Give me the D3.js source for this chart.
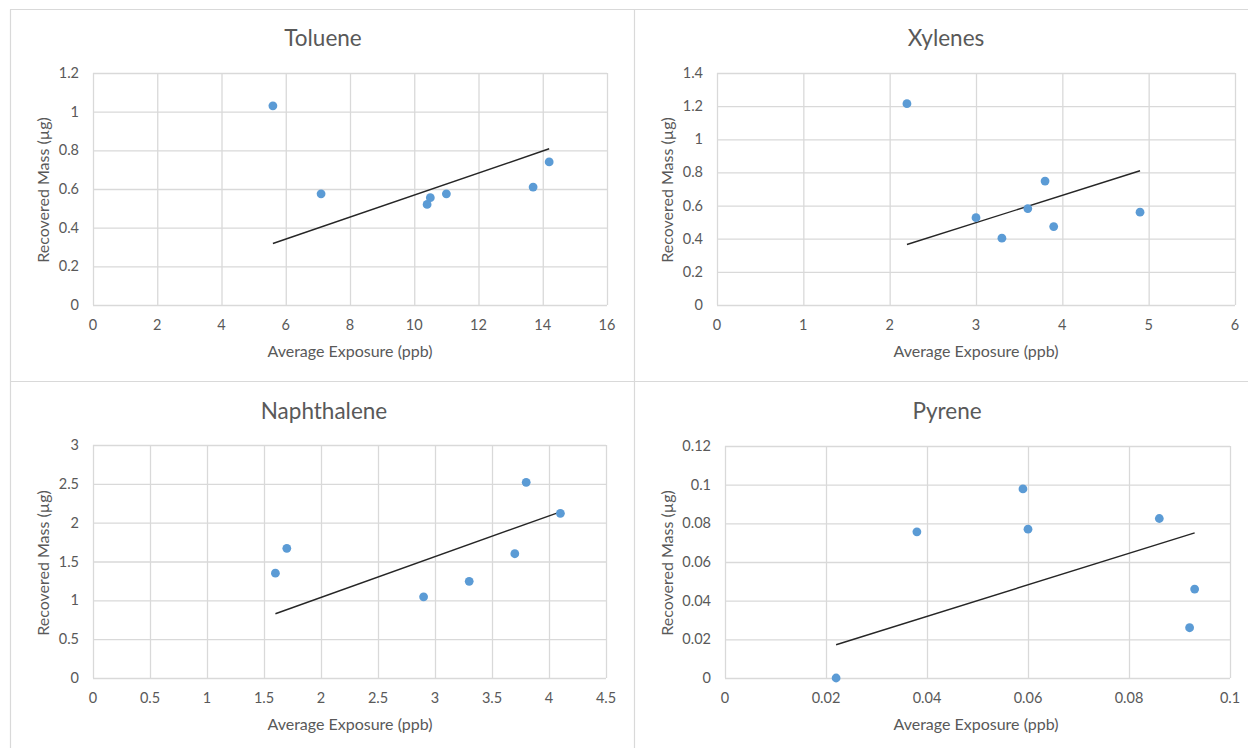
<!DOCTYPE html>
<html>
<head>
<meta charset="utf-8">
<script src="https://cdn.jsdelivr.net/npm/d3@7"></script>
<style>
  body { margin: 0; background: #ffffff; }
</style>
</head>
<body>
<div id="chart"></div>
<script>
// Chart titles and axis titles
let titles = ["Toluene", "Xylenes", "Naphthalene", "Pyrene"];
let xTitle = "Average Exposure (ppb)";
let yTitle = "Recovered Mass (µg)";

// Toluene data
let tolueneX = [5.6, 7.1, 10.4, 10.5, 11.0, 13.7, 14.2];
let tolueneY = [1.03, 0.575, 0.52, 0.555, 0.575, 0.61, 0.74];
let tolueneTrendX = [5.6, 14.2];
let tolueneTrendY = [0.318, 0.808];
let tolueneXTicks = [0, 2, 4, 6, 8, 10, 12, 14, 16];
let tolueneYTicks = [0, 0.2, 0.4, 0.6, 0.8, 1, 1.2];

// Xylenes data
let xylenesX = [2.2, 3.0, 3.3, 3.6, 3.8, 3.9, 4.9];
let xylenesY = [1.215, 0.527, 0.403, 0.582, 0.748, 0.473, 0.56];
let xylenesTrendX = [2.2, 4.9];
let xylenesTrendY = [0.365, 0.81];
let xylenesXTicks = [0, 1, 2, 3, 4, 5, 6];
let xylenesYTicks = [0, 0.2, 0.4, 0.6, 0.8, 1, 1.2, 1.4];

// Naphthalene data
let naphthaleneX = [1.6, 1.7, 2.9, 3.3, 3.7, 3.8, 4.1];
let naphthaleneY = [1.35, 1.67, 1.045, 1.245, 1.6, 2.52, 2.12];
let naphthaleneTrendX = [1.6, 4.1];
let naphthaleneTrendY = [0.827, 2.14];
let naphthaleneXTicks = [0, 0.5, 1, 1.5, 2, 2.5, 3, 3.5, 4, 4.5];
let naphthaleneYTicks = [0, 0.5, 1, 1.5, 2, 2.5, 3];

// Pyrene data
let pyreneX = [0.022, 0.038, 0.059, 0.060, 0.086, 0.092, 0.093];
let pyreneY = [0, 0.0756, 0.0978, 0.077, 0.0825, 0.026, 0.046];
let pyreneTrendX = [0.022, 0.093];
let pyreneTrendY = [0.0172, 0.0751];
let pyreneXTicks = [0, 0.02, 0.04, 0.06, 0.08, 0.1];
let pyreneYTicks = [0, 0.02, 0.04, 0.06, 0.08, 0.1, 0.12];

let xs = [tolueneX, xylenesX, naphthaleneX, pyreneX];
let ys = [tolueneY, xylenesY, naphthaleneY, pyreneY];
let trendXs = [tolueneTrendX, xylenesTrendX, naphthaleneTrendX, pyreneTrendX];
let trendYs = [tolueneTrendY, xylenesTrendY, naphthaleneTrendY, pyreneTrendY];
let xTicks = [tolueneXTicks, xylenesXTicks, naphthaleneXTicks, pyreneXTicks];
let yTicks = [tolueneYTicks, xylenesYTicks, naphthaleneYTicks, pyreneYTicks];

// Where each panel sits on the page
let boxes = [
    {x0: 93, x1: 607, y0: 73, y1: 305, tx: 323, ty: 38, xl: 350, yl: 44, yc: 190, xb: 352},
    {x0: 717, x1: 1235, y0: 73, y1: 305, tx: 946, ty: 38, xl: 976, yl: 668, yc: 190, xb: 352},
    {x0: 93, x1: 606, y0: 445, y1: 678, tx: 324, ty: 411, xl: 350, yl: 44, yc: 563, xb: 725},
    {x0: 725, x1: 1230, y0: 446, y1: 678, tx: 947, ty: 411, xl: 976, yl: 668, yc: 563, xb: 725}
];

let font = "Lato, 'Liberation Sans', sans-serif";
let textCol = "#595959";
let gridCol = "#d9d9d9";
let dotCol = "#5b9bd5";

svg = d3.select('#chart')
    .append('svg')
    .attr("width", 1248)
    .attr("height", 748);

svg.append("rect")
    .attr("width", 1248)
    .attr("height", 748)
    .style("fill", "#ffffff");

// Panel borders
let borders = [
    [10, 9.5, 1248, 9.5],
    [10.5, 9.5, 10.5, 748],
    [634.5, 9.5, 634.5, 748],
    [10, 381.5, 1248, 381.5]
];
borders.forEach(b => {
    svg.append("line")
        .attr("x1", b[0]).attr("y1", b[1])
        .attr("x2", b[2]).attr("y2", b[3])
        .style("stroke", gridCol)
        .style("stroke-width", 1.2);
});

for (let i = 0; i < 4; i++) {
    let b = boxes[i];
    let xt = xTicks[i], yt = yTicks[i];

    let x = d3.scaleLinear()
        .domain([0, xt[xt.length - 1]])
        .range([b.x0, b.x1]);
    let y = d3.scaleLinear()
        .domain([0, yt[yt.length - 1]])
        .range([b.y1, b.y0]);

    let g = svg.append("g");

    // Gridlines
    g.append("g")
        .attr("transform", `translate(0 ${b.y1})`)
        .call(d3.axisBottom(x).tickValues(xt).tickSize(-(b.y1 - b.y0)).tickFormat(""))
        .call(a => a.select(".domain").remove())
        .selectAll("line")
        .style("stroke", gridCol)
        .style("stroke-width", 1.3);
    g.append("g")
        .attr("transform", `translate(${b.x0} 0)`)
        .call(d3.axisLeft(y).tickValues(yt).tickSize(-(b.x1 - b.x0)).tickFormat(""))
        .call(a => a.select(".domain").remove())
        .selectAll("line")
        .style("stroke", gridCol)
        .style("stroke-width", 1.3);

    // Tick labels
    g.selectAll(".xlab")
        .data(xt)
        .enter()
        .append("text")
        .text(d => d)
        .attr("x", d => x(d))
        .attr("y", b.y1 + 25)
        .attr("text-anchor", "middle")
        .style("font-size", "14.5px")
        .style("font-family", font)
        .style("fill", textCol);
    g.selectAll(".ylab")
        .data(yt)
        .enter()
        .append("text")
        .text(d => d)
        .attr("x", b.x0 - 14)
        .attr("y", d => y(d) + 5)
        .attr("text-anchor", "end")
        .style("font-size", "14.5px")
        .style("font-family", font)
        .style("fill", textCol);

    // Trendline
    let pts = trendXs[i].map((v, k) => [v, trendYs[i][k]]);
    g.append("path")
        .attr("d", d3.line().x(d => x(d[0])).y(d => y(d[1]))(pts))
        .style("fill", "none")
        .style("stroke", "#262626")
        .style("stroke-width", 1.4);

    // Points
    g.selectAll("circle")
        .data(xs[i].map((v, k) => [v, ys[i][k]]))
        .enter()
        .append("circle")
        .attr("cx", d => x(d[0]))
        .attr("cy", d => y(d[1]))
        .attr("r", 4.4)
        .style("fill", dotCol);

    // Title
    g.append("text")
        .text(titles[i])
        .attr("x", b.tx)
        .attr("y", b.ty + 8)
        .attr("text-anchor", "middle")
        .style("font-size", "22.5px")
        .style("font-family", font)
        .style("fill", textCol);

    // Axis titles
    g.append("text")
        .text(xTitle)
        .attr("x", b.xl)
        .attr("y", b.xb + 5)
        .attr("text-anchor", "middle")
        .style("font-size", "16px")
        .style("font-family", font)
        .style("fill", textCol);
    g.append("text")
        .text(yTitle)
        .attr("transform", `translate(${b.yl + 5} ${b.yc}) rotate(-90)`)
        .attr("text-anchor", "middle")
        .style("font-size", "16px")
        .style("font-family", font)
        .style("fill", textCol);
}
</script>
</body>
</html>
